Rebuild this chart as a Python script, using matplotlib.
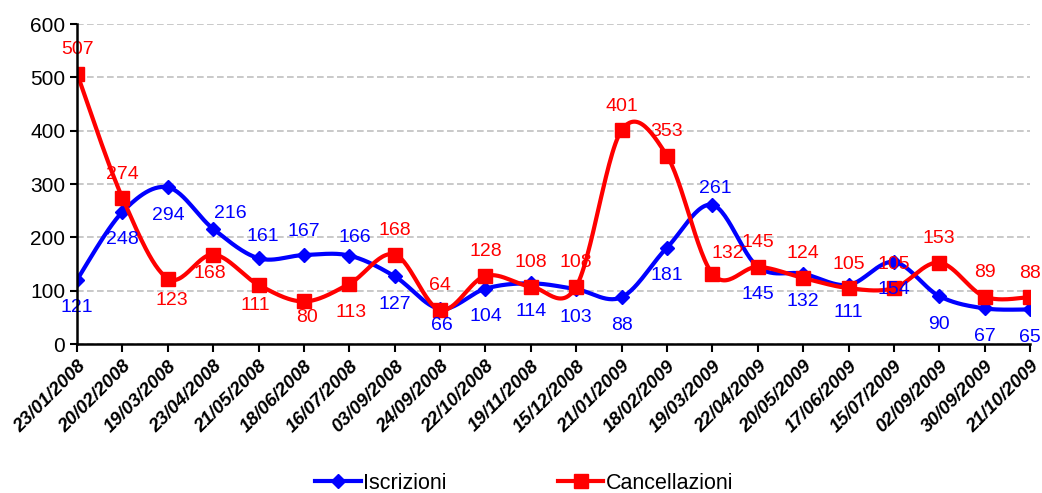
import numpy as np
import matplotlib
matplotlib.use('Agg')
import matplotlib.pyplot as plt
from matplotlib.lines import Line2D

plt.rcParams['font.family'] = ['Liberation Sans', 'DejaVu Sans']

dates = ['23/01/2008', '20/02/2008', '19/03/2008', '23/04/2008', '21/05/2008',
         '18/06/2008', '16/07/2008', '03/09/2008', '24/09/2008', '22/10/2008',
         '19/11/2008', '15/12/2008', '21/01/2009', '18/02/2009', '19/03/2009',
         '22/04/2009', '20/05/2009', '17/06/2009', '15/07/2009', '02/09/2009',
         '30/09/2009', '21/10/2009']
iscrizioni = [121, 248, 294, 216, 161, 167, 166, 127, 66, 104, 114, 103,
              88, 181, 261, 145, 132, 111, 154, 90, 67, 65]
cancellazioni = [507, 274, 123, 168, 111, 80, 113, 168, 64, 128, 108, 108,
                 401, 353, 132, 145, 124, 105, 105, 153, 89, 88]

# label offsets in pixels (dx, dy), dy positive = up
blue_off = [(0, -28)] * len(iscrizioni)
blue_off[3] = (17, 15)
blue_off[4] = (4, 22)
blue_off[5] = (0, 24)
blue_off[6] = (5, 18)
blue_off[8] = (2, -17)
blue_off[14] = (3, 16)
red_off = [(0, 24)] * len(cancellazioni)
red_off[2] = (4, -22)
red_off[3] = (-3, -19)
red_off[4] = (-3, -21)
red_off[5] = (3, -16)
red_off[6] = (2, -29)
red_off[14] = (15, 20)


def smooth(x, y, n=30):
    # catmull-rom style smoothing, like excel's smoothed lines
    x = np.asarray(x, float)
    y = np.asarray(y, float)
    px = np.concatenate([[x[0]], x, [x[-1]]])
    py = np.concatenate([[y[0]], y, [y[-1]]])
    xs, ys = [], []
    t = np.linspace(0, 1, n)
    for i in range(1, len(px) - 2):
        p0, p1, p2, p3 = [np.array([px[j], py[j]]) for j in (i - 1, i, i + 1, i + 2)]
        c1 = p1 + (p2 - p0) / 6
        c2 = p2 - (p3 - p1) / 6
        b = ((1 - t) ** 3)[:, None] * p1 + (3 * (1 - t) ** 2 * t)[:, None] * c1 \
            + (3 * (1 - t) * t ** 2)[:, None] * c2 + (t ** 3)[:, None] * p2
        xs.extend(b[:, 0])
        ys.extend(b[:, 1])
    return xs, ys


fig = plt.figure(figsize=(10.42, 4.93), dpi=100)
ax = fig.add_axes([0.074, 0.302, 0.9145, 0.649])

x = np.arange(len(dates))

bx, by = smooth(x, iscrizioni)
ax.plot(bx, by, color='#0000ff', lw=3, zorder=3, solid_capstyle='round')
ax.plot(x, iscrizioni, 'D', color='#0000ff', ms=7.5, zorder=4)
rx, ry = smooth(x, cancellazioni)
ax.plot(rx, ry, color='#ff0000', lw=3, zorder=5, solid_capstyle='round')
ax.plot(x, cancellazioni, 's', color='#ff0000', ms=9.5, zorder=6)

for i in range(len(x)):
    ax.annotate(str(iscrizioni[i]), (x[i], iscrizioni[i]), xytext=blue_off[i],
                textcoords='offset pixels', ha='center', va='center',
                color='#0000ff', fontsize=14, zorder=7)
    ax.annotate(str(cancellazioni[i]), (x[i], cancellazioni[i]), xytext=red_off[i],
                textcoords='offset pixels', ha='center', va='center',
                color='#ff0000', fontsize=14, zorder=7)

ax.set_xlim(0, len(dates) - 1)
ax.set_ylim(0, 600)
ax.set_yticks(range(0, 601, 100))
ax.set_xticks(x)
ax.set_xticklabels(dates, rotation=45, ha='right', rotation_mode='anchor',
                   fontsize=13.5, fontweight='bold', fontstyle='italic')
ax.tick_params(axis='y', labelsize=15, length=5, width=1.5, direction='out')
ax.tick_params(axis='x', length=6, width=1.5, direction='out', pad=4)
ax.grid(axis='y', color='#c0c0c0', ls=(0, (4, 2)), lw=1.2)
ax.set_axisbelow(True)
for s in ['top', 'right']:
    ax.spines[s].set_visible(False)
ax.spines['left'].set_linewidth(1.8)
ax.spines['bottom'].set_linewidth(1.8)
ax.spines['left'].set_zorder(8)
ax.spines['bottom'].set_zorder(8)

handles = [Line2D([], [], color='#0000ff', lw=3, marker='D', ms=7.5),
           Line2D([], [], color='#ff0000', lw=3, marker='s', ms=9.5)]
fig.legend(handles, ['Iscrizioni', 'Cancellazioni'], loc='center',
           bbox_to_anchor=(0.503, 0.02), ncol=2, frameon=False, fontsize=15.5,
           handlelength=2.1, handletextpad=0.1, columnspacing=5.2)

fig.savefig('out.png', dpi=100)
